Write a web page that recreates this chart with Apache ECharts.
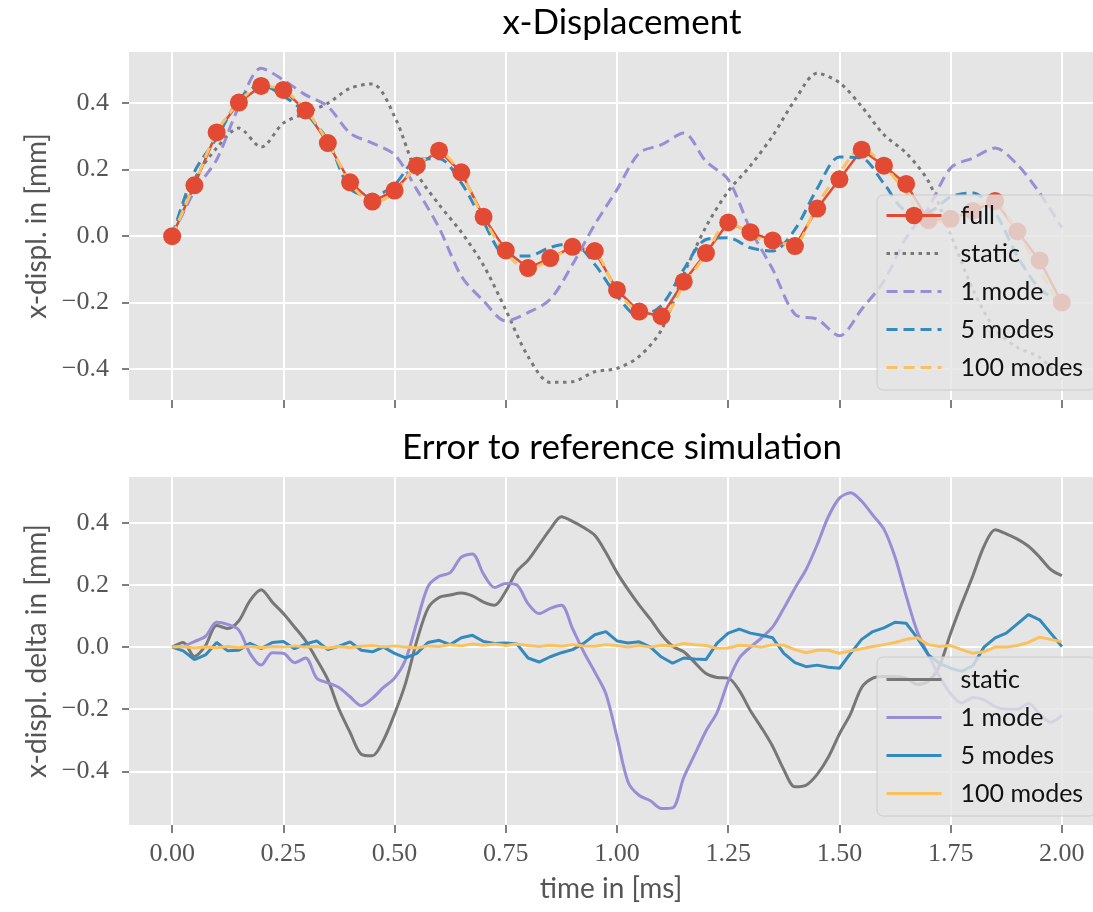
<!DOCTYPE html>
<html>
<head>
<meta charset="utf-8">
<script src="https://cdn.jsdelivr.net/npm/echarts@6/dist/echarts.min.js"></script>
<style>
  html, body { margin: 0; padding: 0; background: #ffffff; }
  #chart { width: 1093px; height: 912px; }
</style>
</head>
<body>
<div id="chart"></div>
<script>
// ---------- data ----------
const tTop = [0.00,0.05,0.10,0.15,0.20,0.25,0.30,0.35,0.40,0.45,0.50,0.55,0.60,0.65,0.70,0.75,0.80,0.85,0.90,0.95,
              1.00,1.05,1.10,1.15,1.20,1.25,1.30,1.35,1.40,1.45,1.50,1.55,1.60,1.65,1.70,1.75,1.80,1.85,1.90,1.95,2.00];

const fullDisp = [0.000,0.153,0.312,0.402,0.452,0.440,0.378,0.280,0.162,0.104,0.137,0.212,0.257,0.192,0.058,-0.043,-0.096,-0.066,-0.032,-0.045,
                  -0.162,-0.227,-0.241,-0.137,-0.051,0.041,0.012,-0.013,-0.030,0.083,0.171,0.260,0.212,0.157,0.048,0.052,0.076,0.106,0.014,-0.073,-0.200];

const staticDisp = [0.000,0.170,0.265,0.325,0.268,0.340,0.370,0.400,0.445,0.458,0.360,0.190,0.095,0.012,-0.088,-0.222,-0.362,-0.440,-0.438,-0.408,
                    -0.398,-0.362,-0.282,-0.115,0.028,0.135,0.212,0.302,0.410,0.490,0.462,0.390,0.305,0.250,0.165,0.005,-0.160,-0.280,-0.335,-0.365,-0.430];

const oneModeDisp = [0.000,0.135,0.230,0.390,0.505,0.470,0.425,0.390,0.310,0.280,0.245,0.140,0.025,-0.120,-0.195,-0.255,-0.230,-0.190,-0.085,0.035,
                     0.140,0.250,0.275,0.310,0.225,0.170,0.020,-0.100,-0.235,-0.250,-0.300,-0.220,-0.135,-0.005,0.085,0.205,0.235,0.265,0.215,0.130,0.025];

const fiveModesDisp = [0.000,0.193,0.295,0.410,0.455,0.422,0.370,0.288,0.143,0.120,0.155,0.230,0.233,0.160,0.042,-0.058,-0.060,-0.034,-0.022,-0.085,
                       -0.180,-0.242,-0.208,-0.100,-0.010,-0.005,-0.035,-0.045,0.020,0.143,0.238,0.235,0.158,0.078,0.075,0.118,0.130,0.070,-0.060,-0.158,-0.200];

const hundredModesDisp = [0.000,0.156,0.312,0.402,0.452,0.440,0.380,0.283,0.162,0.100,0.131,0.213,0.253,0.186,0.054,-0.050,-0.100,-0.071,-0.038,-0.048,
                          -0.165,-0.230,-0.246,-0.147,-0.055,0.043,0.006,-0.023,-0.022,0.095,0.190,0.265,0.212,0.130,0.042,0.045,0.090,0.100,0.010,-0.102,-0.217];

const tErr = [0.000,0.025,0.050,0.075,0.100,0.125,0.150,0.175,0.200,0.225,0.250,0.275,0.300,0.325,0.350,0.375,0.400,0.425,0.450,0.475,
              0.500,0.525,0.550,0.575,0.600,0.625,0.650,0.675,0.700,0.725,0.750,0.775,0.800,0.825,0.850,0.875,0.900,0.925,0.950,0.975,
              1.000,1.025,1.050,1.075,1.100,1.125,1.150,1.175,1.200,1.225,1.250,1.275,1.300,1.325,1.350,1.375,1.400,1.425,1.450,1.475,
              1.500,1.525,1.550,1.575,1.600,1.625,1.650,1.675,1.700,1.725,1.750,1.775,1.800,1.825,1.850,1.875,1.900,1.925,1.950,1.975,2.000];

const errStatic = [0.000,0.015,-0.030,0.005,0.070,0.060,0.085,0.150,0.185,0.145,0.108,0.065,0.020,-0.040,-0.105,-0.200,-0.275,-0.345,-0.350,-0.300,
                   -0.215,-0.115,0.020,0.125,0.160,0.168,0.174,0.165,0.145,0.135,0.180,0.245,0.280,0.330,0.380,0.420,0.405,0.385,0.360,0.305,
                   0.240,0.185,0.135,0.090,0.040,0.003,-0.015,-0.050,-0.085,-0.098,-0.100,-0.140,-0.205,-0.260,-0.320,-0.395,-0.450,-0.445,-0.410,-0.355,
                   -0.280,-0.215,-0.130,-0.100,-0.095,-0.095,-0.100,-0.120,-0.110,-0.060,0.045,0.140,0.230,0.325,0.378,0.365,0.348,0.325,0.290,0.250,0.230];

const errOneMode = [0.000,0.003,0.018,0.035,0.080,0.073,0.055,-0.020,-0.058,-0.018,-0.020,-0.050,-0.035,-0.100,-0.115,-0.130,-0.160,-0.188,-0.165,-0.130,
                    -0.100,-0.040,0.080,0.195,0.228,0.240,0.290,0.300,0.235,0.192,0.205,0.200,0.140,0.108,0.125,0.135,0.060,-0.015,-0.080,-0.150,
                    -0.290,-0.435,-0.478,-0.495,-0.520,-0.518,-0.420,-0.345,-0.270,-0.210,-0.110,-0.035,0.000,0.030,0.065,0.125,0.190,0.250,0.330,0.420,
                    0.480,0.497,0.470,0.425,0.380,0.290,0.165,0.050,-0.025,-0.095,-0.150,-0.180,-0.162,-0.170,-0.192,-0.200,-0.200,-0.182,-0.215,-0.242,-0.220];

const errFiveModes = [0.000,-0.012,-0.040,-0.025,0.015,-0.012,-0.010,0.012,-0.005,0.015,0.018,-0.005,0.010,0.020,-0.008,0.003,0.017,-0.010,-0.015,0.000,
                      -0.020,-0.035,-0.020,0.015,0.022,0.008,0.030,0.038,0.018,0.012,0.013,0.010,-0.035,-0.048,-0.031,-0.018,-0.008,0.012,0.040,0.050,
                      0.020,0.013,0.017,0.000,-0.032,-0.052,-0.035,-0.038,-0.040,0.013,0.045,0.058,0.045,0.038,0.030,-0.020,-0.050,-0.063,-0.058,-0.065,
                      -0.068,-0.020,0.025,0.050,0.062,0.080,0.077,0.030,-0.025,-0.052,-0.068,-0.078,-0.060,0.000,0.030,0.045,0.075,0.105,0.088,0.045,0.002];

const errHundredModes = [0.000,0.002,-0.003,0.000,-0.002,0.002,-0.002,0.003,-0.002,0.002,0.000,0.004,0.000,0.002,-0.003,0.002,-0.002,0.003,0.005,0.000,
                         0.004,0.000,-0.003,0.004,0.002,0.008,0.004,0.010,0.006,0.010,0.005,0.010,0.005,0.002,0.006,0.003,0.008,0.004,0.003,0.008,
                         0.005,0.000,0.005,0.000,0.006,0.003,0.012,0.008,0.005,-0.004,-0.003,0.006,0.004,0.000,0.008,0.006,-0.008,-0.018,-0.010,-0.010,
                         -0.020,-0.012,-0.005,0.002,0.008,0.015,0.025,0.030,0.008,0.002,0.005,-0.008,-0.020,-0.015,0.000,0.000,0.005,0.015,0.032,0.025,0.017];

const xTicks = [0, 0.25, 0.5, 0.75, 1.0, 1.25, 1.5, 1.75, 2.0];
const yTicks = [-0.4, -0.2, 0, 0.2, 0.4];

// ---------- styling helpers ----------
const C = { red: '#E24A33', gray: '#777777', purple: '#988ED5', blue: '#348ABD', yellow: '#FBC15E' };
const SANS = 'Lato, "Open Sans", sans-serif';
const SERIF = '"Liberation Serif", "DejaVu Serif", serif';

function pairs(xs, ys) { return xs.map((x, i) => [x, ys[i]]); }
function yFmt(v) { const r = Math.round(v * 10) / 10; return (r < 0 ? '\u2212' : '') + Math.abs(r).toFixed(1); }

function xAxisCfg(gridIndex, showLabels) {
  return {
    type: 'value', gridIndex, min: -0.097, max: 2.07,
    axisLine: { show: false, onZero: false },
    axisTick: { show: true, customValues: xTicks, length: 8, lineStyle: { color: '#555555', width: 1.5 } },
    axisLabel: { show: showLabels, customValues: xTicks, margin: 16, color: '#555555',
                 fontFamily: SERIF, fontSize: 26, formatter: v => v.toFixed(2) },
    splitLine: { show: true, lineStyle: { color: '#ffffff', width: 2 } },
    name: showLabels ? 'time in [ms]' : '', nameLocation: 'middle', nameGap: 50,
    nameTextStyle: { fontFamily: SANS, fontSize: 28, color: '#555555' }
  };
}
function yAxisCfg(gridIndex, min, max, name) {
  return {
    type: 'value', gridIndex, min, max,
    axisLine: { show: false, onZero: false },
    axisTick: { show: true, customValues: yTicks, length: 7, lineStyle: { color: '#555555', width: 1.5 } },
    axisLabel: { customValues: yTicks, margin: 20, color: '#555555', fontFamily: SERIF, fontSize: 26, formatter: yFmt },
    splitLine: { show: true, lineStyle: { color: '#ffffff', width: 2 } },
    name, nameLocation: 'middle', nameGap: 78,
    nameTextStyle: { fontFamily: SANS, fontSize: 28, color: '#555555' }
  };
}
function lineSeries(name, xi, data, color, type, extra) {
  return Object.assign({
    type: 'line', name, xAxisIndex: xi, yAxisIndex: xi, data,
    symbol: 'none', showSymbol: false, animation: false,
    lineStyle: { color, width: 3, type },
    itemStyle: { color }
  }, extra || {});
}
function lineOnly(name) { return { name, itemStyle: { opacity: 0 } }; }

const legendCommon = {
  orient: 'vertical', left: 877,
  itemWidth: 55, itemHeight: 22, itemGap: 13,
  backgroundColor: 'rgba(229,229,229,0.8)', borderColor: '#CCCCCC', borderWidth: 1, borderRadius: 6,
  textStyle: { fontFamily: SANS, fontSize: 25, color: '#111111', lineHeight: 24, padding: [0, 0, 0, 14] },
  lineStyle: { width: 3 },
  selectedMode: false
};

const option = {
  backgroundColor: '#ffffff',
  animation: false,
  title: [
    { text: 'x-Displacement', left: 617, top: 0, textAlign: 'center',
      textStyle: { fontFamily: SANS, fontSize: 35, fontWeight: 'normal', color: '#000000' } },
    { text: 'Error to reference simulation', left: 617, top: 425, textAlign: 'center',
      textStyle: { fontFamily: SANS, fontSize: 35, fontWeight: 'normal', color: '#000000' } }
  ],
  grid: [
    { left: 129, top: 52, right: 0, height: 348, show: true, backgroundColor: '#E5E5E5', borderWidth: 0 },
    { left: 129, top: 477, right: 0, height: 348, show: true, backgroundColor: '#E5E5E5', borderWidth: 0 }
  ],
  xAxis: [ xAxisCfg(0, false), xAxisCfg(1, true) ],
  yAxis: [ yAxisCfg(0, -0.493, 0.554, 'x-displ. in [mm]'), yAxisCfg(1, -0.573, 0.548, 'x-displ. delta in [mm]') ],
  legend: [
    Object.assign({}, legendCommon, { top: 195, padding: [8, 12, 10, 8],
      data: ['full', lineOnly('static'), lineOnly('1 mode'), lineOnly('5 modes'), lineOnly('100 modes')] }),
    Object.assign({}, legendCommon, { top: 657, padding: [10, 12, 10, 8],
      data: [lineOnly('e:static'), lineOnly('e:1 mode'), lineOnly('e:5 modes'), lineOnly('e:100 modes')],
      formatter: n => n.replace('e:', '') })
  ],
  series: [
    lineSeries('full', 0, pairs(tTop, fullDisp), C.red, 'solid',
      { symbol: 'circle', showSymbol: true, symbolSize: 18, lineStyle: { color: C.red, width: 2.5, type: 'solid' } }),
    lineSeries('static', 0, pairs(tTop, staticDisp), C.gray, [3.5, 4.5], { smooth: 0.3 }),
    lineSeries('1 mode', 0, pairs(tTop, oneModeDisp), C.purple, [11, 6], { smooth: 0.3 }),
    lineSeries('5 modes', 0, pairs(tTop, fiveModesDisp), C.blue, [11, 6], { smooth: 0.3 }),
    lineSeries('100 modes', 0, pairs(tTop, hundredModesDisp), C.yellow, [11, 6], { smooth: 0.3 }),

    lineSeries('e:static', 1, pairs(tErr, errStatic), C.gray, 'solid', { smooth: 0.3 }),
    lineSeries('e:1 mode', 1, pairs(tErr, errOneMode), C.purple, 'solid', { smooth: 0.3 }),
    lineSeries('e:5 modes', 1, pairs(tErr, errFiveModes), C.blue, 'solid'),
    lineSeries('e:100 modes', 1, pairs(tErr, errHundredModes), C.yellow, 'solid')
  ]
};

const chart = echarts.init(document.getElementById('chart'), null, { renderer: 'canvas' });
chart.setOption(option);
</script>
</body>
</html>
